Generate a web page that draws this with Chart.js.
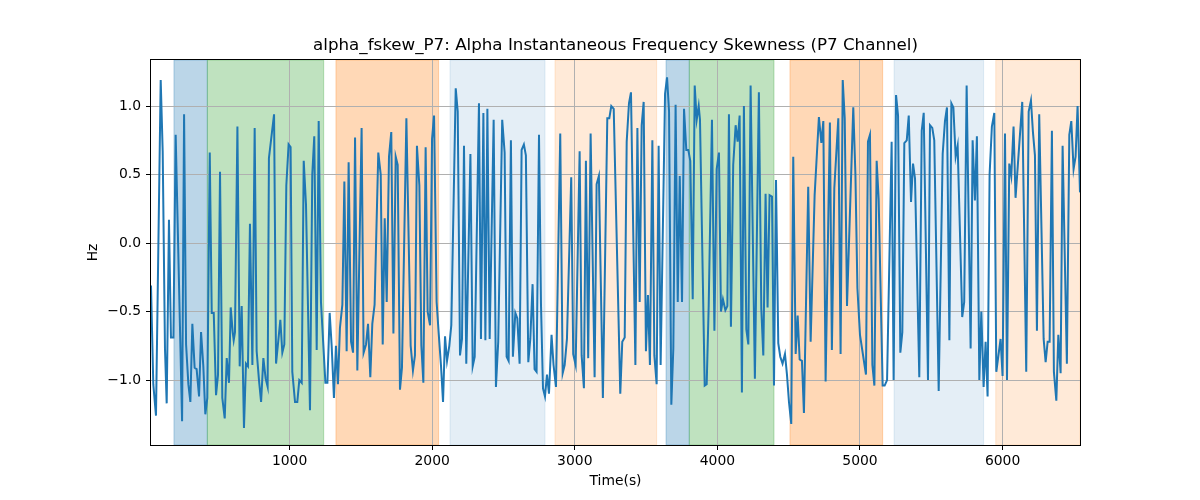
<!DOCTYPE html>
<html><head><meta charset="utf-8">
<script src="https://cdn.jsdelivr.net/npm/chart.js@4.4.1/dist/chart.umd.min.js"></script>
<style>html,body{margin:0;padding:0;background:#fff;} #wrap{width:1200px;height:500px;}</style>
</head><body><div id="wrap"><canvas id="c" width="1200" height="500"></canvas></div>
<script>
const times = [28,44,63,96,110,126,138,154,168,185,201,246,260,274,290,304,318,334,348,365,379,395,409,423,440,454,468,484,498,512,528,545,559,575,587,601,608,617,634,650,664,680,694,708,722,739,755,769,786,800,816,832,846,
855,891,905,935,949,963,977,993,1007,1019,1038,1054,1068,1085,1099,1115,1143,1159,1173,1190,1204,1220,1251,1265,1281,1295,1311,1325,1339,1353,1370,1384,1400,1414,1431,1445,1459,1475,1505,1519,1536,1550,1566,1580,1596,1622,1639,1653,
1667,1681,1697,1713,1728,1744,1758,1774,1788,1819,1849,1865,1879,1893,1910,1924,1938,1954,1968,1985,1999,2013,2031,2045,2062,2076,2090,2104,2120,2134,2165,2179,2195,2209,2223,2239,2268,2284,2298,2328,2342,2359,2373,2387,2403,2431,2447,
2463,2491,2508,2522,2536,2552,2566,2583,2597,2613,2627,2643,2657,2674,2688,2704,2718,2732,2749,2763,2777,2791,2805,2819,2837,2851,2868,2898,2915,2929,2945,2975,2989,3006,3034,3048,3064,3078,3094,3111,3139,3153,3169,3197,3228,3242,3256,
3273,3319,3333,3350,3364,3380,3394,3425,3439,3455,3469,3483,3499,3513,3527,3544,3558,3574,3588,3602,3633,3647,3661,3677,3691,3707,3722,3736,3752,3766,3782,3796,3810,3827,3841,3855,3869,3878,3911,3925,3939,3962,3979,3995,4011,4025,4039,4056,4070,
4081,4095,4111,4128,4142,4156,4172,4186,4203,4217,4233,4263,4291,4308,4322,4338,4352,4366,4383,4397,4411,4427,4441,4457,4474,4488,4502,4518,4532,4549,4563,4577,4593,4607,4637,4654,4682,4712,4729,4743,4759,4789,4803,4820,4848,4864,
4879,4893,4909,4953,4968,4982,5000,5042,5056,5070,5087,5101,5117,5131,5159,5173,5190,5222,5236,5253,5267,5283,5297,5311,5328,5342,5358,5372,5386,5416,5433,5447,5477,5491,5507,5521,5552,5580,5596,5610,5627,5641,5655,5671,5685,
5717,5731,5748,5776,5790,5806,5820,5837,5851,5867,5881,5895,5909,5925,5942,5956,5986,6000,6017,6031,6047,6061,6077,6091,6138,6166,6183,6199,6213,6227,6241,6257,6288,6302,6316,6330,6346,6360,6377,6391,6407,6421,6451,6468,6482,6498,6512,6526,6543];
const values = [-0.31,-1.03,-1.26,1.19,0.67,-0.77,-1.17,0.17,-0.69,-0.69,0.79,-1.30,0.94,-0.74,-1.03,-1.16,-0.59,-0.91,-0.92,-1.12,-0.65,-0.90,-1.25,-1.13,0.66,-0.51,-0.51,-1.11,-0.96,0.52,-1.13,-1.28,-0.84,-1.02,-0.47,-0.65,-0.71,-0.65,0.85,-0.90,-0.46,-1.35,-0.88,-0.90,0.14,-0.89,0.84,-0.79,-1.01,-1.16,-0.84,-0.99,-1.05,
0.62,0.94,-0.88,-0.56,-0.80,-0.74,0.42,0.72,0.70,-0.94,-1.16,-1.16,-1.00,-1.02,0.60,0.28,-1.22,0.50,0.78,-0.78,0.89,-0.43,-1.02,-1.02,-0.51,-0.75,-1.13,-0.75,-1.03,-0.62,-0.45,0.45,-0.79,0.59,-0.72,-0.80,0.77,-0.93,0.84,-0.80,-0.74,-0.59,-0.98,-0.59,-0.45,0.66,0.50,-0.74,
0.18,-0.43,0.63,0.81,-0.66,0.63,0.57,-1.07,-0.91,0.91,-0.75,-0.93,-0.82,0.71,0.42,-0.75,-1.02,0.70,-0.50,-0.60,0.76,0.93,-0.43,-0.65,-0.90,-1.16,-0.68,-0.86,-0.75,-0.60,1.13,0.96,-0.82,-0.70,0.71,-0.88,0.65,-0.90,-0.83,1.02,-0.70,0.95,-0.71,0.98,-0.70,0.90,-1.05,
-0.72,0.90,0.66,-0.83,-0.86,0.75,-0.83,-0.51,-0.55,-0.88,0.68,0.72,0.64,-0.87,-0.70,-0.30,-0.92,-0.94,0.79,-0.45,-1.06,-1.12,-0.96,-1.10,-0.67,-0.89,-1.05,0.80,-0.95,-0.89,-0.70,0.48,-0.81,-0.89,0.67,-0.82,-1.06,0.60,-0.84,0.80,-0.98,0.43,0.49,-1.13,0.91,0.91,1.00,
0.98,-1.10,-0.72,-0.69,0.74,1.02,1.10,-0.89,0.84,-0.43,0.86,1.03,-0.79,-0.38,-0.89,0.75,-0.82,-1.03,0.71,-0.89,1.09,1.21,0.96,-1.18,-0.77,1.01,-0.43,0.49,-0.43,0.98,0.68,0.68,0.60,-0.41,1.15,0.90,1.00,0.90,-1.04,-1.03,-0.46,0.90,-0.64,0.54,0.66,-0.50,-0.41,-0.49,-0.46,
0.94,-0.61,0.57,0.86,0.74,0.93,-1.09,1.00,-0.63,-0.74,1.15,-0.99,1.10,-0.48,-0.82,0.36,-0.47,0.35,0.34,-1.04,0.46,-0.73,-0.83,-0.88,-0.81,-0.96,-1.16,-1.32,0.63,-0.81,-0.53,-0.85,-0.86,-1.24,0.41,-0.72,0.35,0.92,0.73,0.89,-1.01,0.88,-0.78,0.40,0.91,-0.81,
1.19,0.91,-0.46,0.99,0.50,-0.33,-0.67,-0.96,0.74,0.79,-0.89,-1.04,0.60,0.32,-1.04,-1.04,-1.00,0.74,-1.00,1.08,0.93,-0.80,-0.65,0.73,0.75,0.93,0.30,0.58,0.47,-0.98,0.82,0.95,-1.00,0.86,0.84,0.75,-1.08,0.65,0.89,0.99,-0.71,1.02,0.99,0.63,0.71,
-0.54,-0.43,1.15,-0.77,0.75,0.31,0.78,-1.00,-0.50,-1.05,-0.72,-1.12,0.50,0.85,0.95,-0.94,-0.70,-0.97,0.80,-1.00,0.58,0.49,0.85,0.33,1.03,-0.94,0.96,1.04,0.81,0.64,-0.64,0.94,-0.70,-0.87,-0.72,-0.72,0.82,-0.94,-1.15,-0.67,-0.95,0.71,-0.88,0.79,0.89,0.54,0.63,1.00,0.37];
const xTicks = [1000, 2000, 3000, 4000, 5000, 6000];
const yTicks = [-1.0, -0.5, 0.0, 0.5, 1.0];
const spanStarts = [189, 423, 1325, 2125, 2861, 3640, 3803, 4509, 5239, 5952];
const spanEnds   = [423, 1239, 2045, 2791, 3574, 3803, 4397, 5159, 5867, 6543];
const spanKinds  = ['blue', 'green', 'orange', 'lightblue', 'lightorange', 'blue', 'green', 'orange', 'lightblue', 'lightorange'];
const titleText = 'alpha_fskew_P7: Alpha Instantaneous Frequency Skewness (P7 Channel)';

const spanStyle = {
  blue: 'rgba(31,119,180,0.3)',
  green: 'rgba(44,160,44,0.3)',
  orange: 'rgba(255,127,14,0.3)',
  lightblue: 'rgba(31,119,180,0.12)',
  lightorange: 'rgba(255,127,14,0.16)'
};

const FONT = 'DejaVu Sans';
const fmtY = v => (v < 0 ? '\u2212' : '') + Math.abs(v).toFixed(1);

const spansPlugin = {
  id: 'spans',
  beforeDraw(chart) {
    const {ctx, chartArea, scales} = chart;
    ctx.save();
    ctx.beginPath();
    ctx.rect(chartArea.left, chartArea.top, chartArea.right - chartArea.left, chartArea.bottom - chartArea.top);
    ctx.clip();
    for (let i = 0; i < spanStarts.length; i++) {
      const x0 = scales.x.getPixelForValue(spanStarts[i]);
      const x1 = scales.x.getPixelForValue(spanEnds[i]);
      ctx.fillStyle = spanStyle[spanKinds[i]];
      ctx.fillRect(x0, chartArea.top, x1 - x0, chartArea.bottom - chartArea.top);
      ctx.strokeStyle = spanStyle[spanKinds[i]];
      ctx.lineWidth = 1;
      ctx.strokeRect(x0, chartArea.top, x1 - x0, chartArea.bottom - chartArea.top);
    }
    ctx.restore();
  },
  afterDraw(chart) {
    const {ctx, chartArea} = chart;
    ctx.save();
    ctx.strokeStyle = '#000';
    ctx.lineWidth = 1;
    ctx.strokeRect(chartArea.left - 0.5, chartArea.top - 0.5, chartArea.right - chartArea.left + 1, chartArea.bottom - chartArea.top + 1);
    ctx.fillStyle = '#000';
    ctx.font = '16.7px "DejaVu Sans"';
    ctx.textAlign = 'center';
    ctx.textBaseline = 'middle';
    ctx.fillText(titleText, (chartArea.left + chartArea.right) / 2, 46);
    ctx.restore();
  }
};

new Chart(document.getElementById('c'), {
  type: 'line',
  data: {
    datasets: [{
      data: times.map((t, i) => ({x: t, y: values[i]})),
      borderColor: '#1f77b4',
      borderWidth: 2,
      pointRadius: 0,
      fill: false,
      tension: 0
    }]
  },
  options: {
    responsive: false,
    animation: false,
    layout: {padding: {left: 0, right: 120, top: 60, bottom: 0}},
    plugins: {
      legend: {display: false},
      tooltip: {enabled: false},
      title: {display: false}
    },
    scales: {
      x: {
        type: 'linear',
        min: 28, max: 6543,
        afterFit: s => { s.height = 55; },
        afterBuildTicks: s => { s.ticks = xTicks.map(v => ({value: v})); },
        grid: {color: '#b0b0b0', lineWidth: 1, tickLength: 5, tickColor: '#000', tickWidth: 1},
        border: {display: false},
        ticks: {color: '#000', font: {family: FONT, size: 13.9}, padding: 3, maxRotation: 0, callback: v => String(v)},
        title: {display: true, text: 'Time(s)', color: '#000', font: {family: FONT, size: 13.9}, padding: {top: 0, bottom: 10}}
      },
      y: {
        type: 'linear',
        min: -1.474, max: 1.336,
        afterFit: s => { s.width = 151; },
        afterBuildTicks: s => { s.ticks = yTicks.map(v => ({value: v})); },
        grid: {color: '#b0b0b0', lineWidth: 1, tickLength: 5, tickColor: '#000', tickWidth: 1},
        border: {display: false},
        ticks: {color: '#000', font: {family: FONT, size: 13.9}, padding: 5, callback: v => fmtY(v)},
        title: {display: true, text: 'Hz', color: '#000', font: {family: FONT, size: 13.9}, padding: {top: 85, bottom: 0}}
      }
    }
  },
  plugins: [spansPlugin]
});
</script>
</body></html>
